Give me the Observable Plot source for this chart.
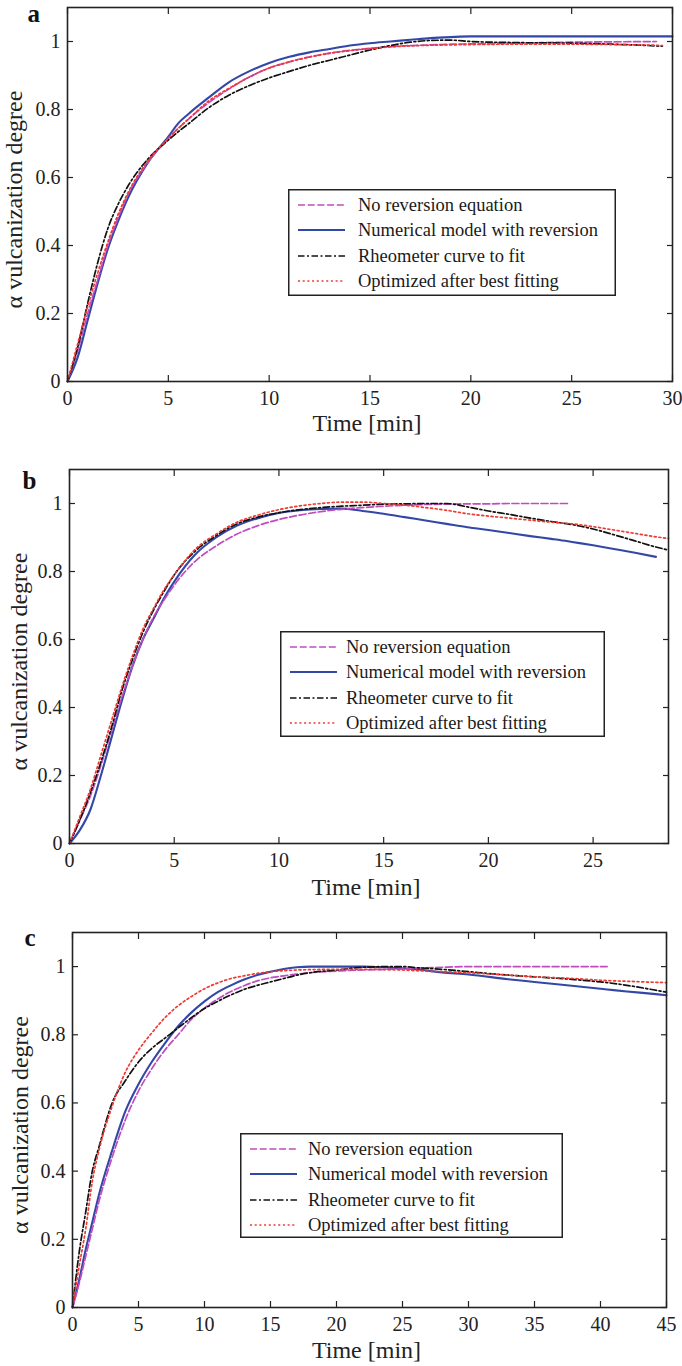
<!DOCTYPE html>
<html>
<head>
<meta charset="utf-8">
<script src="https://cdn.jsdelivr.net/npm/d3@7"></script>
<script src="https://cdn.jsdelivr.net/npm/@observablehq/plot@0.6"></script>
<style>
  html, body { margin: 0; padding: 0; background: white; }
  #fig { position: relative; width: 682px; height: 1366px; background: white; overflow: hidden; }
  .panel { position: absolute; left: 0; }
  .legend { position: absolute; }
</style>
</head>
<body>
<div id="fig"></div>
<script>
// ---------- labels ----------
const xLabel = "Time [min]";
const yLabel = "α vulcanization degree";
const seriesNames = ["No reversion equation", "Numerical model with reversion", "Rheometer curve to fit", "Optimized after best fitting"];
const yTicks = [0, 0.2, 0.4, 0.6, 0.8, 1];

// ---------- panel a ----------
const aTicksX = [0, 5, 10, 15, 20, 25, 30];
const aTime  = [0, 0.5, 1, 1.5, 2, 2.5, 3, 4, 5, 5.5, 6, 7, 8, 9, 10, 11, 12, 13, 14, 15, 16, 17, 18, 19, 20, 22, 25, 27, 29.2, 29.5, 30];
const aNoRev = [0, 0.09, 0.2, 0.3, 0.4, 0.48, 0.55, 0.645, 0.715, 0.745, 0.772, 0.82, 0.86, 0.895, 0.922, 0.94, 0.955, 0.966, 0.974, 0.98, 0.985, 0.988, 0.99, 0.992, 0.993, 0.995, 0.998, 0.999, 1.0, null, null];
const aModel = [0, 0.07, 0.18, 0.29, 0.39, 0.47, 0.54, 0.645, 0.72, 0.76, 0.787, 0.835, 0.88, 0.912, 0.937, 0.955, 0.968, 0.978, 0.988, 0.995, 1.0, 1.005, 1.01, 1.013, 1.015, 1.015, 1.015, 1.015, 1.015, 1.015, 1.015];
const aRheo  = [0, 0.1, 0.23, 0.35, 0.45, 0.52, 0.575, 0.655, 0.71, 0.735, 0.758, 0.805, 0.842, 0.87, 0.893, 0.912, 0.93, 0.945, 0.96, 0.975, 0.988, 0.998, 1.003, 1.004, 1.0, 0.997, 0.995, 0.992, 0.987, 0.986, null];
const aOpt   = [0, 0.11, 0.22, 0.32, 0.41, 0.49, 0.555, 0.65, 0.715, 0.745, 0.772, 0.825, 0.862, 0.895, 0.922, 0.94, 0.954, 0.965, 0.973, 0.979, 0.984, 0.987, 0.989, 0.99, 0.991, 0.992, 0.992, 0.991, 0.989, 0.988, null];

// ---------- panel b ----------
const bTicksX = [0, 5, 10, 15, 20, 25];
const bTime  = [0, 0.5, 1, 1.5, 2, 2.5, 3, 3.5, 4, 4.5, 5, 6, 7, 8, 9, 10, 11, 12, 13, 14, 15, 16, 17, 18, 19, 20, 21, 22, 23, 23.8, 24, 25, 26, 27, 28, 28.6];
const bNoRev = [0, 0.07, 0.14, 0.23, 0.33, 0.43, 0.52, 0.6, 0.665, 0.715, 0.76, 0.83, 0.875, 0.91, 0.935, 0.953, 0.966, 0.976, 0.983, 0.988, 0.992, 0.995, 0.997, 0.998, 0.999, 0.999, 1.0, 1.0, 1.0, 1.0, null, null, null, null, null, null];
const bModel = [0, 0.04, 0.1, 0.2, 0.31, 0.42, 0.52, 0.6, 0.66, 0.72, 0.77, 0.85, 0.9, 0.935, 0.957, 0.972, 0.98, 0.984, 0.985, 0.978, 0.97, 0.96, 0.95, 0.94, 0.93, 0.922, 0.913, 0.904, 0.896, 0.889, 0.887, 0.877, 0.866, 0.855, 0.843, null];
const bRheo  = [0, 0.07, 0.15, 0.24, 0.34, 0.45, 0.54, 0.62, 0.685, 0.74, 0.79, 0.86, 0.905, 0.94, 0.96, 0.973, 0.982, 0.988, 0.992, 0.995, 0.998, 0.999, 1.0, 1.0, 0.99, 0.978, 0.968, 0.957, 0.947, 0.94, 0.938, 0.925, 0.908, 0.89, 0.872, 0.863];
const bOpt   = [0, 0.08, 0.16, 0.26, 0.36, 0.46, 0.55, 0.63, 0.69, 0.745, 0.79, 0.865, 0.91, 0.945, 0.966, 0.982, 0.993, 1.0, 1.004, 1.004, 1.0, 0.995, 0.988, 0.98, 0.97, 0.963, 0.957, 0.951, 0.945, 0.941, 0.94, 0.932, 0.922, 0.912, 0.902, 0.897];

// ---------- panel c ----------
const cTicksX = [0, 5, 10, 15, 20, 25, 30, 35, 40, 45];
const cTime  = [0, 0.5, 1, 1.5, 2, 3, 4, 5, 6, 7, 8, 9, 10, 11, 12, 13, 14, 15, 16, 17, 18, 20, 22, 24, 25, 26, 28, 30, 33, 35, 38, 40, 40.5, 42, 44, 45];
const cNoRev = [0, 0.07, 0.15, 0.23, 0.31, 0.44, 0.55, 0.635, 0.7, 0.755, 0.8, 0.845, 0.878, 0.905, 0.927, 0.944, 0.958, 0.967, 0.973, 0.978, 0.982, 0.987, 0.99, 0.992, 0.993, 0.995, 0.998, 1.0, 1.0, 1.0, 1.0, 1.0, 1.0, null, null, null];
const cModel = [0, 0.08, 0.17, 0.25, 0.33, 0.46, 0.575, 0.655, 0.72, 0.775, 0.825, 0.865, 0.898, 0.925, 0.945, 0.962, 0.975, 0.985, 0.993, 0.998, 1.0, 1.0, 1.0, 0.997, 0.995, 0.992, 0.983, 0.977, 0.963, 0.955, 0.943, 0.935, 0.933, 0.927, 0.92, 0.916];
const cRheo  = [0, 0.16, 0.28, 0.4, 0.47, 0.6, 0.665, 0.72, 0.76, 0.79, 0.82, 0.85, 0.877, 0.898, 0.917, 0.933, 0.945, 0.955, 0.965, 0.975, 0.982, 0.99, 0.998, 1.0, 1.0, 0.997, 0.992, 0.985, 0.975, 0.97, 0.962, 0.955, 0.953, 0.945, 0.932, 0.925];
const cOpt   = [0, 0.12, 0.23, 0.37, 0.46, 0.59, 0.69, 0.755, 0.805, 0.85, 0.885, 0.912, 0.935, 0.952, 0.965, 0.973, 0.98, 0.985, 0.988, 0.99, 0.991, 0.992, 0.992, 0.991, 0.99, 0.988, 0.985, 0.982, 0.975, 0.97, 0.965, 0.96, 0.959, 0.957, 0.954, 0.953];

// ---------- styles ----------
const seriesStyles = [
  {stroke: "#c04cc0", strokeWidth: 1.7, strokeDasharray: "7,2.7"},
  {stroke: "#3347a6", strokeWidth: 2.1, strokeDasharray: null},
  {stroke: "#111111", strokeWidth: 1.7, strokeDasharray: "6.5,2.5,2,2.5"},
  {stroke: "#ee3a33", strokeWidth: 1.7, strokeDasharray: "2,2.7"}
];
const FONT = "'Liberation Serif', 'DejaVu Serif', serif";
const INK = "#222";

const panels = [
  {letter: "a", top: 0, height: 450, mt: 7, mb: 69, ml: 67, mr: 10, xmax: 30, ticks: aTicksX,
   time: aTime, series: [aNoRev, aModel, aRheo, aOpt],
   letterDx: -40, letterDy: 6, yLabDx: -53, xLabDy: 42,
   legend: {left: 288, top: 189, w: 328, h: 107, textX: 70}},
  {letter: "b", top: 450, height: 460, mt: 19, mb: 67, ml: 69, mr: 14, xmax: 28.6, ticks: bTicksX,
   time: bTime, series: [bNoRev, bModel, bRheo, bOpt],
   letterDx: -47, letterDy: 11, yLabDx: -50, xLabDy: 44,
   legend: {left: 280, top: 631, w: 325, h: 106, textX: 66}},
  {letter: "c", top: 910, height: 456, mt: 22, mb: 59, ml: 72, mr: 16, xmax: 45, ticks: cTicksX,
   time: cTime, series: [cNoRev, cModel, cRheo, cOpt],
   letterDx: -48, letterDy: 5, yLabDx: -52, xLabDy: 43,
   legend: {left: 240, top: 1133, w: 323, h: 105, textX: 68}}
];

const fig = document.getElementById("fig");

for (const p of panels) {
  const lineMarks = p.series.map((vals, k) => {
    const rows = p.time.map((t, i) => ({t, v: vals[i]}));
    const last = vals.reduce((acc, v, i) => v == null ? acc : i, 0);
    return Plot.line(rows.slice(0, last + 1), {
      x: "t", y: "v",
      stroke: seriesStyles[k].stroke,
      strokeWidth: seriesStyles[k].strokeWidth,
      strokeDasharray: seriesStyles[k].strokeDasharray,
      strokeLinejoin: "round",
      curve: "monotone-x"
    });
  });
  const order = [1, 0, 2, 3];
  const chart = Plot.plot({
    width: 682,
    height: p.height,
    marginTop: p.mt, marginBottom: p.mb, marginLeft: p.ml, marginRight: p.mr,
    x: {domain: [0, p.xmax], axis: null},
    y: {domain: [0, 1.1], axis: null},
    style: {fontFamily: FONT, color: INK, background: "white", overflow: "visible"},
    marks: [
      ...order.map(k => lineMarks[k]),
      Plot.frame({stroke: INK, strokeWidth: 1.6}),
      // inward ticks on all four sides
      Plot.axisX(p.ticks, {anchor: "bottom", tickSize: 6, dy: -6, tickFormat: () => "", label: null, stroke: INK, strokeWidth: 1.2}),
      Plot.axisX(p.ticks, {anchor: "top", tickSize: 6, dy: 6, tickFormat: () => "", label: null, stroke: INK, strokeWidth: 1.2}),
      Plot.axisY(yTicks, {anchor: "left", tickSize: 6, dx: 6, tickFormat: () => "", label: null, stroke: INK, strokeWidth: 1.2}),
      Plot.axisY(yTicks, {anchor: "right", tickSize: 6, dx: -6, tickFormat: () => "", label: null, stroke: INK, strokeWidth: 1.2}),
      // tick labels
      Plot.axisX(p.ticks, {anchor: "bottom", tickSize: 0, tickPadding: 9, fontSize: 20, tickFormat: d => String(d), label: null, fill: INK}),
      Plot.axisY(yTicks, {anchor: "left", tickSize: 0, tickPadding: 7, fontSize: 20, tickFormat: d => String(d), label: null, fill: INK}),
      // axis titles
      Plot.text([xLabel], {text: d => d, frameAnchor: "bottom", textAnchor: "middle", lineAnchor: "middle", dx: -3, dy: p.xLabDy, fontSize: 24, fill: INK}),
      Plot.text([yLabel], {text: d => d, frameAnchor: "left", textAnchor: "middle", lineAnchor: "middle", dx: p.yLabDx, dy: 5, rotate: -90, fontSize: 24, fill: INK}),
      // panel letter
      Plot.text([p.letter], {text: d => d, frameAnchor: "top-left", textAnchor: "start", lineAnchor: "middle", dx: p.letterDx, dy: p.letterDy, fontSize: 25, fontWeight: "bold", fill: "#111"})
    ]
  });
  const wrap = document.createElement("div");
  wrap.className = "panel";
  wrap.style.top = p.top + "px";
  wrap.appendChild(chart);
  fig.appendChild(wrap);

  // legend box drawn over the plot area
  const L = p.legend;
  const rowsY = [16, 41, 67, 92];
  const svg = d3.create("svg")
    .attr("class", "legend")
    .attr("width", L.w).attr("height", L.h)
    .style("left", L.left + "px").style("top", L.top + "px")
    .style("font-family", FONT);
  svg.append("rect").attr("x", 0.75).attr("y", 0.75).attr("width", L.w - 1.5).attr("height", L.h - 1.5)
    .attr("fill", "white").attr("stroke", INK).attr("stroke-width", 1.5);
  seriesNames.forEach((name, k) => {
    const s = seriesStyles[k];
    svg.append("line").attr("x1", 10).attr("x2", 57).attr("y1", rowsY[k]).attr("y2", rowsY[k])
      .attr("stroke", s.stroke).attr("stroke-width", s.strokeWidth)
      .attr("stroke-dasharray", s.strokeDasharray);
    svg.append("text").attr("x", L.textX).attr("y", rowsY[k] + 6)
      .attr("font-size", 18.5).attr("fill", "#1a1a1a").text(name);
  });
  fig.appendChild(svg.node());
}
</script>
</body>
</html>
